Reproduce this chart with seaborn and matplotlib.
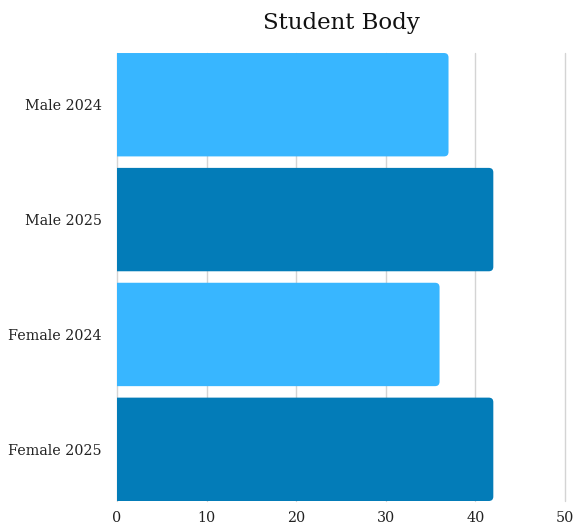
import matplotlib
matplotlib.use("Agg")
import matplotlib.pyplot as plt
from matplotlib.patches import FancyBboxPatch
import seaborn as sns
import pandas as pd

# --- Data ---
categories = ["Male 2024", "Male 2025", "Female 2024", "Female 2025"]
students = [37, 42, 36, 42]
bar_colors = ["#38B6FF", "#037CB8", "#38B6FF", "#037CB8"]
x_ticks = [0, 10, 20, 30, 40, 50]

df = pd.DataFrame({"category": categories, "students": students})

sns.set_theme(style="white")
plt.rcParams["font.family"] = ["DejaVu Serif"]

fig = plt.figure(figsize=(5.75, 5.25), dpi=100)
ax = fig.add_axes([0.2035, 0.0457, 0.7791, 0.8533])

sns.barplot(data=df, y="category", x="students", hue="category",
            palette=bar_colors, saturation=1, legend=False, width=0.9,
            ax=ax, zorder=2)

# swap plain bars for ones with rounded right corners
px_per_x = ax.get_position().width * 575 / 50
px_per_y = ax.get_position().height * 525 / 3.9
radius = 4.5 / px_per_x
aspect = (4.5 / px_per_y) / radius
for p in list(ax.patches):
    x, y = p.get_x(), p.get_y()
    w, h = p.get_width(), p.get_height()
    rb = FancyBboxPatch((x - 2, y), w + 2, h,
                        boxstyle=f"round,pad=0,rounding_size={radius}",
                        mutation_aspect=aspect, facecolor=p.get_facecolor(),
                        edgecolor="none", zorder=2, clip_on=True)
    p.remove()
    ax.add_patch(rb)

ax.set_xlim(0, 50)
ax.set_ylim(3.45, -0.45)
ax.set_xticks(x_ticks)
ax.grid(axis="x", color="#d4d4d4", linewidth=1, zorder=0)
for gl in ax.get_xgridlines():
    gl.set_clip_on(False)
ax.set_axisbelow(True)
for s in ax.spines.values():
    s.set_visible(False)
ax.tick_params(axis="both", length=0, labelsize=10.3, colors="#222222")
ax.tick_params(axis="y", pad=11)
ax.tick_params(axis="x", pad=7)
ax.set_xlabel("")
ax.set_ylabel("")
fig.text(0.594, 0.957, "Student Body", ha="center", va="center",
         fontsize=16.5, color="#111111")

fig.savefig("out.png", dpi=100)
